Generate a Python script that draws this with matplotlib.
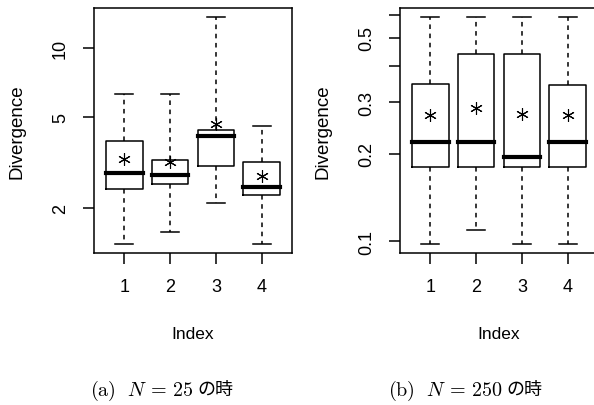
import matplotlib
matplotlib.use('Agg')
import matplotlib.pyplot as plt

plt.rcParams['font.family'] = ['Liberation Sans', 'DejaVu Sans']
plt.rcParams['mathtext.fontset'] = 'cm'

# box statistics, (a) N = 25
lo_a = [1.40, 1.58, 2.11, 1.40]
q1_a = [2.43, 2.55, 3.05, 2.29]
med_a = [2.85, 2.79, 4.12, 2.48]
q3_a = [3.92, 3.24, 4.37, 3.18]
hi_a = [6.32, 6.32, 13.6, 4.59]
mean_a = [3.27, 3.18, 4.64, 2.77]

# (b) N = 250
lo_b = [0.098, 0.109, 0.098, 0.098]
q1_b = [0.180, 0.180, 0.180, 0.180]
med_b = [0.219, 0.219, 0.195, 0.219]
q3_b = [0.346, 0.441, 0.441, 0.344]
hi_b = [0.59, 0.59, 0.59, 0.59]
mean_b = [0.271, 0.286, 0.273, 0.271]

index = [1, 2, 3, 4]
ticks_a = [2, 5, 10]
ticklabels_a = ['2', '5', '10']
ticks_b = [0.1, 0.2, 0.3, 0.4, 0.5, 0.6]
ticklabels_b = ['0.1', '0.2', '0.3', '', '0.5', '']


def make_stats(lo, q1, med, q3, hi, mean):
    stats = []
    for i in range(len(med)):
        stats.append({'whislo': lo[i], 'q1': q1[i], 'med': med[i], 'q3': q3[i],
                      'whishi': hi[i], 'mean': mean[i], 'fliers': []})
    return stats


def draw_panel(ax, stats, ylim, ticks, ticklabels):
    ax.bxp(stats, positions=index, widths=0.8, capwidths=0.4,
           showmeans=True, showfliers=False,
           boxprops=dict(color='black', linewidth=1.1),
           medianprops=dict(color='black', linewidth=3.0, solid_capstyle='projecting'),
           whiskerprops=dict(color='black', linewidth=1.1, linestyle=(0, (3, 3))),
           capprops=dict(color='black', linewidth=1.1),
           meanprops=dict(marker=(6, 2, 0), markersize=9, markeredgecolor='black',
                          markeredgewidth=0.8, markerfacecolor='black'))
    ax.set_yscale('log')
    ax.set_xlim(0.34, 4.66)
    ax.set_ylim(ylim)
    ax.set_yticks(ticks)
    ax.set_yticklabels(ticklabels)
    ax.minorticks_off()
    ax.set_xticks(index)
    ax.set_xticklabels([str(i) for i in index])
    ax.tick_params(axis='both', direction='out', length=8, width=1.1, labelsize=13)
    ax.tick_params(axis='x', pad=10)
    ax.tick_params(axis='y', pad=10)
    for lab in ax.get_yticklabels():
        lab.set_rotation(90)
        lab.set_va('center')
    for sp in ax.spines.values():
        sp.set_linewidth(1.1)
    ax.set_xlabel('Index', fontsize=12.5, labelpad=22)
    ax.set_ylabel('Divergence', fontsize=13.5, labelpad=19)


W, H = 594, 406
fig = plt.figure(figsize=(W / 100, H / 100), dpi=100)

ax1 = fig.add_axes([94 / W, 1 - 254 / H, 198 / W, 245 / H])
draw_panel(ax1, make_stats(lo_a, q1_a, med_a, q3_a, hi_a, mean_a),
           (1.28, 14.9), ticks_a, ticklabels_a)

ax2 = fig.add_axes([400 / W, 1 - 254 / H, 198 / W, 245 / H])
draw_panel(ax2, make_stats(lo_b, q1_b, med_b, q3_b, hi_b, mean_b),
           (0.091, 0.634), ticks_b, ticklabels_b)

# captions: math part first, then the Japanese part right after it
renderer = fig.canvas.get_renderer()
captions = [(90, r'$\mathrm{(a)}\ \ N\,=\,25$'), (388, r'$\mathrm{(b)}\ \ N\,=\,250$')]
for x0, cap in captions:
    t = fig.text(x0 / W, 1 - 391 / H, cap, fontsize=14.5, ha='left', va='center')
    bb = t.get_window_extent(renderer)
    fig.text((bb.x1 + 4) / W, 1 - 390 / H, 'の時', fontsize=13,
             family=['Noto Sans CJK JP'], ha='left', va='center')

fig.savefig('out.png', dpi=100)
